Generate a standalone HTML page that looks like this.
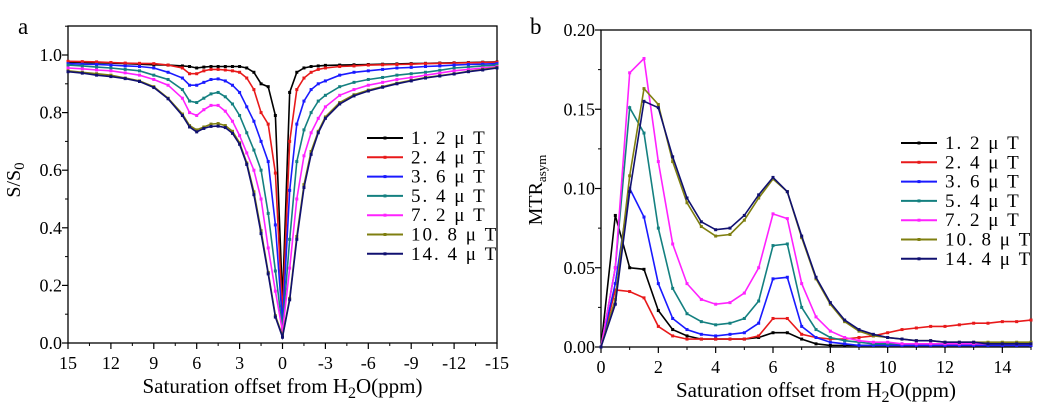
<!DOCTYPE html>
<html><head><meta charset="utf-8">
<style>
body{margin:0;background:#fff;}
svg{display:block;}
svg text{font-family:"Liberation Serif","Noto Serif CJK SC",serif;}
</style></head>
<body>
<svg id="chart" width="1043" height="411" viewBox="0 0 1043 411" xmlns="http://www.w3.org/2000/svg">
<g id="pa"></g>
<g id="pb"></g>
</svg>
<script>
const NS="http://www.w3.org/2000/svg";
const labels=["1. 2  μ T","2. 4  μ T","3. 6  μ T","5. 4  μ T","7. 2  μ T","10. 8  μ T","14. 4  μ T"];
const colors=["#000000","#e8191a","#1a1aff","#148080","#ff22ff","#7f7f10","#101070"];
// Panel a data (Z-spectra)
const axX=[15,14,13,12,11,10,9,8,7,6.5,6,5.5,5,4.5,4,3.5,3,2.5,2,1.5,1,0.5,0,-0.5,-1,-1.5,-2,-2.5,-3,-4,-5,-6,-7,-8,-9,-10,-11,-12,-13,-14,-15];
const aS1=[0.975,0.974,0.973,0.972,0.97,0.968,0.966,0.965,0.962,0.96,0.955,0.958,0.96,0.96,0.96,0.96,0.96,0.955,0.94,0.9,0.89,0.79,0.15,0.87,0.94,0.955,0.96,0.962,0.964,0.965,0.966,0.967,0.968,0.969,0.97,0.971,0.972,0.973,0.974,0.975,0.976];
const aS2=[0.978,0.977,0.976,0.974,0.972,0.971,0.97,0.965,0.955,0.935,0.935,0.945,0.95,0.95,0.948,0.945,0.94,0.92,0.88,0.8,0.76,0.59,0.1,0.7,0.88,0.92,0.94,0.95,0.955,0.96,0.962,0.965,0.966,0.967,0.968,0.97,0.971,0.972,0.973,0.974,0.975];
const aS3=[0.97,0.968,0.967,0.965,0.962,0.96,0.955,0.94,0.92,0.895,0.895,0.905,0.915,0.917,0.91,0.895,0.87,0.82,0.77,0.7,0.63,0.41,0.07,0.53,0.76,0.84,0.88,0.9,0.91,0.93,0.94,0.945,0.95,0.955,0.957,0.96,0.962,0.965,0.967,0.968,0.97];
const aS4=[0.965,0.962,0.958,0.955,0.95,0.945,0.93,0.915,0.88,0.84,0.835,0.85,0.865,0.87,0.855,0.83,0.79,0.73,0.67,0.6,0.45,0.25,0.05,0.36,0.63,0.74,0.8,0.84,0.86,0.89,0.905,0.915,0.922,0.93,0.935,0.94,0.947,0.955,0.958,0.962,0.965];
const aS5=[0.955,0.952,0.948,0.945,0.938,0.93,0.915,0.895,0.85,0.8,0.79,0.81,0.825,0.825,0.805,0.77,0.72,0.66,0.6,0.5,0.33,0.18,0.04,0.26,0.5,0.65,0.73,0.78,0.82,0.86,0.88,0.895,0.905,0.915,0.922,0.93,0.937,0.945,0.95,0.955,0.96];
const aS6=[0.945,0.94,0.935,0.93,0.92,0.91,0.89,0.85,0.795,0.755,0.74,0.75,0.76,0.762,0.755,0.735,0.695,0.625,0.525,0.39,0.245,0.095,0.025,0.155,0.37,0.55,0.665,0.735,0.785,0.835,0.862,0.878,0.89,0.902,0.912,0.922,0.928,0.935,0.943,0.95,0.957];
const aS7=[0.942,0.937,0.93,0.925,0.918,0.908,0.887,0.848,0.79,0.75,0.733,0.745,0.752,0.753,0.748,0.728,0.69,0.62,0.515,0.38,0.24,0.09,0.02,0.15,0.36,0.54,0.655,0.73,0.78,0.83,0.858,0.875,0.888,0.9,0.91,0.92,0.927,0.934,0.942,0.948,0.955];
const aSeries=[aS1,aS2,aS3,aS4,aS5,aS6,aS7];
const aYTicks=[0.0,0.2,0.4,0.6,0.8,1.0];
const aXTicks=[15,12,9,6,3,0,-3,-6,-9,-12,-15];
// Panel b data (MTRasym)
const bxX=[0,0.5,1,1.5,2,2.5,3,3.5,4,4.5,5,5.5,6,6.5,7,7.5,8,8.5,9,9.5,10,10.5,11,11.5,12,12.5,13,13.5,14,14.5,15];
const bS1=[0,0.083,0.05,0.049,0.023,0.011,0.007,0.005,0.005,0.005,0.005,0.006,0.009,0.009,0.005,0.002,0.001,0.001,0.001,0.001,0.001,0.001,0.001,0.001,0.001,0.001,0.001,0.001,0.001,0.001,0.001];
const bS2=[0,0.036,0.035,0.031,0.013,0.007,0.005,0.005,0.005,0.005,0.005,0.007,0.018,0.018,0.008,0.006,0.005,0.005,0.006,0.007,0.009,0.011,0.012,0.013,0.013,0.014,0.015,0.015,0.016,0.016,0.017];
const bS3=[0,0.04,0.1,0.082,0.04,0.018,0.011,0.008,0.007,0.008,0.009,0.015,0.043,0.044,0.013,0.006,0.003,0.002,0.001,0.001,0.001,0.001,0.001,0.001,0.001,0.001,0.001,0.001,0.001,0.001,0.001];
const bS4=[0,0.05,0.151,0.135,0.075,0.037,0.021,0.016,0.014,0.015,0.018,0.029,0.064,0.065,0.025,0.011,0.006,0.004,0.003,0.002,0.002,0.002,0.002,0.002,0.002,0.002,0.002,0.002,0.002,0.002,0.002];
const bS5=[0,0.05,0.173,0.182,0.117,0.065,0.04,0.03,0.027,0.028,0.034,0.05,0.084,0.081,0.04,0.019,0.01,0.006,0.004,0.003,0.003,0.002,0.002,0.002,0.002,0.002,0.002,0.002,0.002,0.002,0.002];
const bS6=[0,0.03,0.108,0.163,0.153,0.117,0.091,0.076,0.07,0.071,0.08,0.094,0.106,0.098,0.069,0.043,0.027,0.016,0.01,0.007,0.006,0.005,0.004,0.004,0.003,0.003,0.003,0.003,0.003,0.003,0.003];
const bS7=[0,0.027,0.098,0.155,0.151,0.12,0.094,0.079,0.074,0.075,0.083,0.096,0.107,0.098,0.07,0.044,0.028,0.017,0.011,0.008,0.006,0.005,0.004,0.004,0.003,0.003,0.003,0.002,0.002,0.002,0.002];
const bSeries=[bS1,bS2,bS3,bS4,bS5,bS6,bS7];
const bYTicks=[0.00,0.05,0.10,0.15,0.20];
const bXTicks=[0,2,4,6,8,10,12,14];

function el(parent,tag,attrs,text){const e=document.createElementNS(NS,tag);for(const k in attrs)e.setAttribute(k,attrs[k]);if(text!==undefined)e.textContent=text;parent.appendChild(e);return e;}

function drawPanel(g,cfg){
  const {x0,x1,y0,y1,dx0,dx1,dy0,dy1}=cfg;
  const sx=v=>x0+(v-dx0)/(dx1-dx0)*(x1-x0);
  const sy=v=>y0-(v-dy0)/(dy1-dy0)*(y0-y1);
  const fr=el(g,'rect',{x:x0,y:cfg.top,width:x1-x0,height:y0-cfg.top,fill:'none',stroke:'#000','stroke-width':1.3});
  
  
  cfg.yTicks.forEach((v,i)=>{
    const y=sy(v);
    const t=el(g,'line',{x1:x0-6,x2:x0,y1:y,y2:y,stroke:'#000','stroke-width':1.2});
    
    
    const lb=el(g,'text',{x:x0-6,y:y+6,'text-anchor':'end','font-size':18},v.toFixed(cfg.yDec));
    
    
    if(i<cfg.yTicks.length-1){const ym=sy(v+cfg.yStep/2);
      const m=el(g,'line',{x1:x0-3,x2:x0,y1:ym,y2:ym,stroke:'#000','stroke-width':1});
      
      }
  });
  if(cfg.yExtraMinor){const ym=sy(cfg.yExtraMinor);const m=el(g,'line',{x1:x0-3,x2:x0,y1:ym,y2:ym,stroke:'#000','stroke-width':1});
    
    }
  cfg.xTicks.forEach((v,i)=>{
    const x=sx(v);
    const t=el(g,'line',{x1:x,x2:x,y1:y0,y2:y0+6,stroke:'#000','stroke-width':1.2});
    
    
    const lb=el(g,'text',{x:x,y:y0+26,'text-anchor':'middle','font-size':18},String(v));
    
    
    const vm=v+cfg.xStep/2;
    if((cfg.xStep>0?vm<=dx1:vm>=dx1)){const xm=sx(vm);
      const m=el(g,'line',{x1:xm,x2:xm,y1:y0,y2:y0+3,stroke:'#000','stroke-width':1});
      
      }
  });
  cfg.series.forEach((s,k)=>{
    const sg=el(g,'g',{});
    
    
    const pts=s.map((v,i)=>sx(cfg.xs[i]).toFixed(1)+','+sy(v).toFixed(1)).join(' ');
    const pl=el(sg,'polyline',{points:pts,fill:'none',stroke:colors[k],'stroke-width':1.6});
    
    
    s.forEach((v,i)=>{
      const c=el(sg,'rect',{x:sx(cfg.xs[i])-1.5,y:sy(v)-1.5,width:3,height:3,fill:colors[k]});
      
      
    });
  });
  const lg=el(g,'g',{});
  
  
  labels.forEach((l,k)=>{
    const y=cfg.legY+k*19.3;
    const e=el(lg,'g',{});
    
    
    el(e,'line',{x1:cfg.legX,x2:cfg.legX+36,y1:y,y2:y,stroke:colors[k],'stroke-width':2});
    el(e,'rect',{x:cfg.legX+16.5,y:y-1.5,width:3,height:3,fill:colors[k]});
    el(e,'text',{x:cfg.legX+44,y:y+6,'font-size':19,'xml:space':'preserve','letter-spacing':'2'},l);
  });
  const xt=el(g,'text',{x:(x0+x1)/2,y:y0+50,'text-anchor':'middle','font-size':21});
  
  
  xt.innerHTML='Saturation offset from H<tspan dy="5" font-size="16">2</tspan><tspan dy="-5">O(ppm)</tspan>';
  const pl=el(g,'text',{x:cfg.panX,y:cfg.panY,'font-size':23},cfg.panel);
  
  
}

drawPanel(document.getElementById('pa'),{x0:68,x1:497,y0:343,y1:55,top:26,dx0:15,dx1:-15,dy0:0,dy1:1,
  yTicks:aYTicks,yDec:1,yStep:0.2,yExtraMinor:1.1,xTicks:aXTicks,xStep:-3,xs:axX,series:aSeries,
  legX:367,legY:138,panel:'a',panX:18,panY:34});
drawPanel(document.getElementById('pb'),{x0:601,x1:1031,y0:347,y1:30,top:30,dx0:0,dx1:15,dy0:0,dy1:0.2,
  yTicks:bYTicks,yDec:2,yStep:0.05,xTicks:bXTicks,xStep:2,xs:bxX,series:bSeries,
  legX:901,legY:143,panel:'b',panX:530,panY:34});

const ya=el(document.getElementById('pa'),'text',{transform:'translate(20,180) rotate(-90)','text-anchor':'middle','font-size':20});


ya.innerHTML='S/S<tspan dy="4" font-size="15">0</tspan>';
const yb=el(document.getElementById('pb'),'text',{transform:'translate(542,190) rotate(-90)','text-anchor':'middle','font-size':20});


yb.innerHTML='MTR<tspan dy="4" font-size="13">asym</tspan>';
</script>
</body></html>
